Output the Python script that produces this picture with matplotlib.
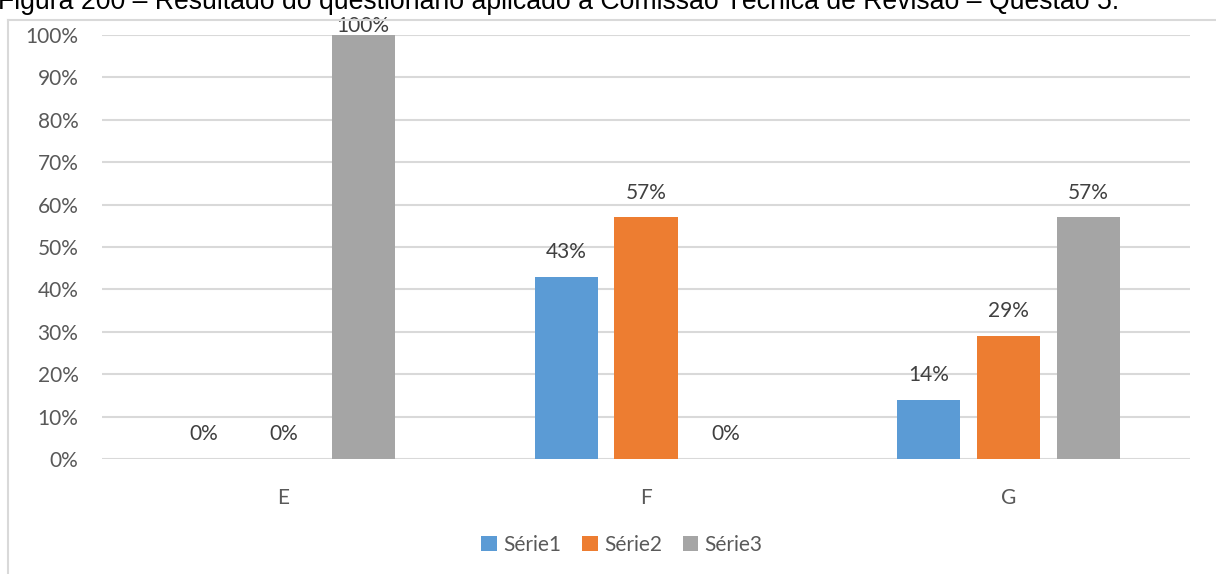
import matplotlib
matplotlib.use("Agg")
import matplotlib.pyplot as plt
from matplotlib.lines import Line2D
from matplotlib.ticker import PercentFormatter
import numpy as np

# Question 5 answers, by category
categories = ["E", "F", "G"]
series_names = ["Série1", "Série2", "Série3"]
serie1 = [0.00, 0.43, 0.14]
serie2 = [0.00, 0.57, 0.29]
serie3 = [1.00, 0.00, 0.57]
colors = ["#5B9BD5", "#ED7D31", "#A5A5A5"]

caption = ("Figura 200 \u2013 Resultado do questionário aplicado à Comissão "
           "Técnica de Revisão \u2013 Questão 5.")

W, H = 1216, 574
fig = plt.figure(figsize=(W / 100, H / 100), dpi=100)
fig.patch.set_facecolor("white")

plt.rcParams["font.family"] = ["Lato", "DejaVu Sans"]
text_color = "#595959"
label_color = "#404040"
fs = 15

ax = fig.add_axes([102 / W, 1 - 459 / H, (1190 - 102) / W, (459 - 35) / H])

x = np.arange(len(categories))
width = 0.174
offset = 0.22
all_series = [serie1, serie2, serie3]
for i, (vals, name, col) in enumerate(zip(all_series, series_names, colors)):
    pos = x + (i - 1) * offset
    bars = ax.bar(pos, vals, width=width, color=col, label=name, zorder=3)
    for b, v in zip(bars, vals):
        # a label at the very top of the scale sits right on its bar
        dy = -0.5 if v >= 1.0 else 10.5
        ax.annotate(f"{v * 100:.0f}%", (b.get_x() + b.get_width() / 2, v),
                    xytext=(0, dy), textcoords="offset points",
                    ha="center", va="bottom", fontsize=fs, color=label_color,
                    annotation_clip=False, zorder=4)

ax.set_xlim(-0.5, 2.5)
ax.set_ylim(0, 1.0)
ax.set_yticks(np.linspace(0, 1, 11))
ax.yaxis.set_major_formatter(PercentFormatter(1.0, decimals=0))
ax.set_xticks(x)
ax.set_xticklabels(categories)
ax.tick_params(axis="both", length=0, labelsize=fs, labelcolor=text_color)
ax.tick_params(axis="y", pad=17)
ax.tick_params(axis="x", pad=21)
ax.grid(axis="y", color="#D9D9D9", linewidth=1.5, zorder=0)
ax.set_axisbelow(True)
for s in ax.spines.values():
    s.set_visible(False)

leg = fig.legend(loc="center", bbox_to_anchor=(622 / W, 1 - 545 / H), ncol=3,
                 frameon=False, fontsize=fs, handlelength=0.75, handleheight=0.75,
                 handletextpad=0.3, columnspacing=1.0)
for t in leg.get_texts():
    t.set_color(text_color)

# chart frame (left and top edges)
frame_kw = dict(color="#D9D9D9", linewidth=1.5, transform=fig.transFigure)
fig.add_artist(Line2D([8 / W, 8 / W], [0, 1 - 20 / H], **frame_kw))
fig.add_artist(Line2D([8 / W, 1], [1 - 20 / H, 1 - 20 / H], **frame_kw))

# caption above the chart, cut by the page edge
fig.text(-2 / W, 1 - 9 / H, caption, family="Liberation Sans", fontsize=19.2,
         color="black", ha="left", va="baseline")

fig.savefig("out.png", dpi=100, facecolor="white")
